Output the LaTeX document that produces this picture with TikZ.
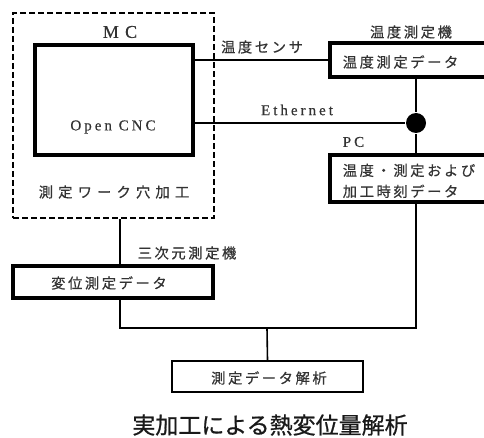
\documentclass[tikz,border=0pt]{standalone}
\usepackage{fontspec}
\setmainfont{Liberation Serif}
\newfontfamily\jp[LetterSpace=18, FakeBold=0.6]{Noto Sans CJK JP}
\newfontfamily\jpcap[FakeBold=0.8]{Noto Sans CJK JP}
\newfontfamily\lat[LetterSpace=20, FakeBold=0.6]{Liberation Serif}
\usetikzlibrary{positioning,calc}

\begin{document}
\begin{tikzpicture}[x=1pt, y=-1pt, line width=1.6pt,
  heavy/.style={draw, line width=3.4pt, inner sep=0pt},
  light/.style={draw, line width=1.7pt, inner sep=0pt},
  machine/.style={draw, line width=2.6pt, dash pattern=on 6pt off 3pt, inner sep=0pt},
  jtxt/.style={inner sep=0pt, font=\jp\fontsize{14.3}{21}\selectfont, text=black!80},
  ltxt/.style={inner sep=0pt, font=\lat\fontsize{15}{17}\selectfont, text=black!80}]
\useasboundingbox (0,0) rectangle (484,438);
\clip (0,0) rectangle (484,438);
% boxes
\node[machine, minimum width=201pt, minimum height=205pt] (mc) at (113.5,115.5) {};
\node[heavy, minimum width=172pt, minimum height=34pt] (tmp) at (416,60) {};
\node[heavy, minimum width=158pt, minimum height=110pt] (cnc) at (114,100) {};
\node[heavy, minimum width=172pt, minimum height=47pt] (pc) at (416,178.5) {};
\node[heavy, minimum width=200pt, minimum height=32pt] (hen) at (113,282) {};
\node[light, minimum width=191pt, minimum height=31pt] (ana) at (267.5,376.5) {};
\node[circle, fill=black, minimum size=20pt, inner sep=0pt] (dot) at (416,123) {};
% texts
\node[ltxt, font=\lat\fontsize{18}{20}\selectfont\addfontfeature{LetterSpace=35}] (mclbl) at (120,32) {MC};
\node[ltxt] (cnclbl) at (113,127) {Open CNC};
\node[jtxt, font=\jp\fontsize{14.3}{21}\selectfont\addfontfeature{LetterSpace=36}] (work) at (114,192) {測定ワーク穴加工};
\node[jtxt] (sens) at (262,47) {温度センサ};
\node[jtxt] (tmpdev) at (411,32) {温度測定機};
\node[jtxt, anchor=west] (tmptxt) at (342,62) {温度測定データ};
\node[ltxt] (eth) at (297,110) {Ethernet};
\node[ltxt, anchor=west] (pclbl) at (342,142) {PC};
\node[jtxt, anchor=north west, align=left] (pctxt) at (342,163) {温度・測定および\\加工時刻データ};
\node[jtxt] (cmm) at (187,253) {三次元測定機};
\node[jtxt] (hentxt) at (109,283) {変位測定データ};
\node[jtxt] (anatxt) at (269,378) {測定データ解析};
\node[inner sep=0pt, font=\jpcap\fontsize{23}{25}\selectfont, text=black!90] (cap) at (270,425) {実加工による熱変位量解析};
% connectors
\coordinate (tap) at (120,328);
\coordinate (join) at (267,328);
\draw (cnc.east |- tmp.west) -- (tmp.west);
\draw (cnc.east |- dot) -- (dot);
\draw (tmp.south) -- (dot) -- (pc.north);
\draw (mc.south -| tap) -- (hen.north -| tap);
\draw (hen.south -| tap) -- (tap) -- (tap -| pc.south) -- (pc.south);
\draw (join) -- (ana.north);
\end{tikzpicture}
\end{document}
